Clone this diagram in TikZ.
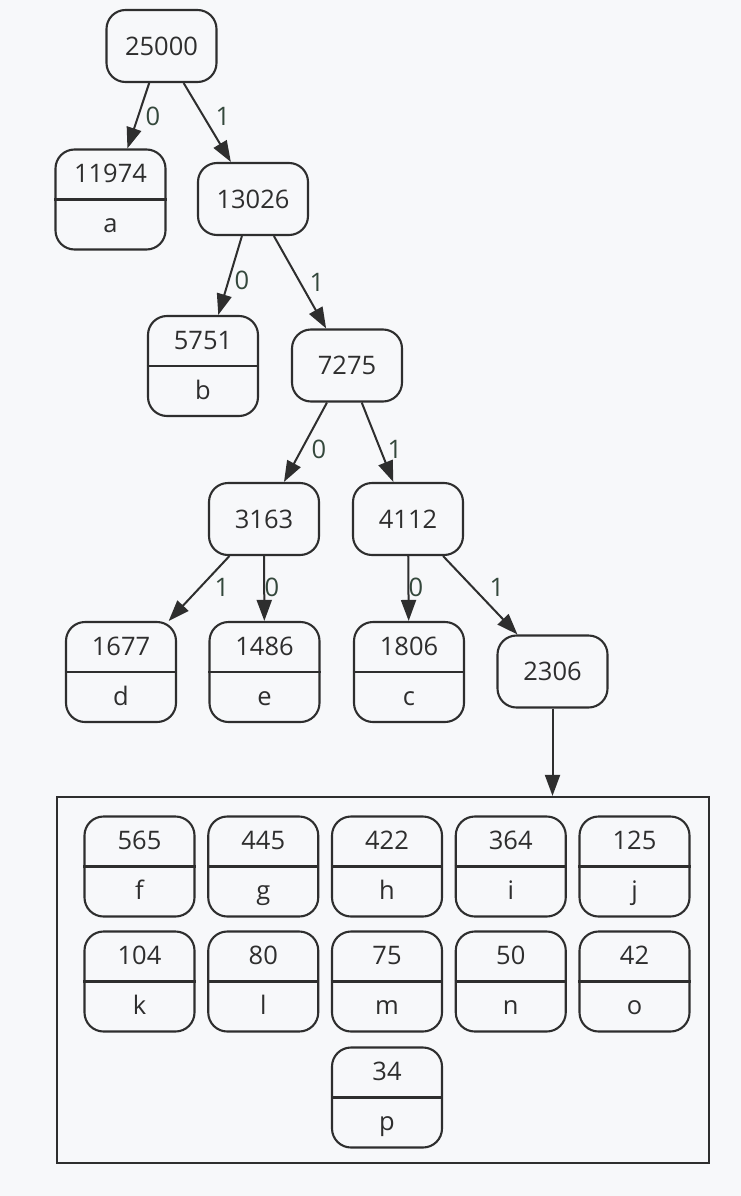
\documentclass[tikz,border=0pt]{standalone}
\usepackage{fontspec}
\setmainfont{Open Sans}
\usetikzlibrary{arrows.meta}
\definecolor{bg}{HTML}{F7F8FA}
\definecolor{ink}{HTML}{2E2E2E}
\definecolor{lblink}{HTML}{34483C}

% leaf: name, x, y, weight, symbol
\newcommand\leafnode[5]{%
  \node[leafbox] (#1) at (#2,#3) {};
  \draw[divider] (#1.west) -- (#1.east);
  \node[anchor=base, inner sep=0pt] (#1-w) at (#2,#3-17) {#4};
  \node[anchor=base, inner sep=0pt] (#1-s) at (#2,#3+33) {#5};
}

\begin{document}
\begin{tikzpicture}[x=1pt,y=-1pt,
  every node/.style={font=\fontsize{25.5}{30}\selectfont, text=ink},
  inner/.style={draw=ink, line width=2.1pt, rounded corners=19pt,
    minimum width=110pt, minimum height=72pt, inner sep=0pt},
  leafbox/.style={inner, minimum height=100pt},
  divider/.style={draw=ink, line width=2.1pt},
  edge/.style={draw=ink, line width=2pt, -{Triangle[length=21pt,width=15pt]}},
  lbl/.style={text=lblink, anchor=base, inner sep=0pt},
  grp/.style={draw=ink, line width=2.2pt, inner sep=0pt,
    minimum width=652pt, minimum height=366pt}
]
\fill[bg] (0,0) rectangle (741,1196);
\useasboundingbox (0,0) rectangle (741,1196);

% internal nodes
\node[inner] (n25000) at (161.5,46) {25000};
\node[inner] (n13026) at (253,199) {13026};
\node[inner] (n7275) at (347,365.5) {7275};
\node[inner] (n3163) at (264,519) {3163};
\node[inner] (n4112) at (408,519) {4112};
\node[inner] (n2306) at (552.5,671.5) {2306};

% upper leaves
\leafnode{a}{110.5}{199.5}{11974}{a}
\leafnode{b}{203}{366}{5751}{b}
\leafnode{d}{121}{672}{1677}{d}
\leafnode{e}{264.5}{672}{1486}{e}
\leafnode{c}{409}{672}{1806}{c}

% group of small leaves
\node[grp] (grp) at (383,980) {};
\leafnode{f}{139.5}{866.5}{565}{f}
\leafnode{g}{263.25}{866.5}{445}{g}
\leafnode{h}{387}{866.5}{422}{h}
\leafnode{i}{510.75}{866.5}{364}{i}
\leafnode{j}{634.5}{866.5}{125}{j}
\leafnode{k}{139.5}{981.5}{104}{k}
\leafnode{l}{263.25}{981.5}{80}{l}
\leafnode{m}{387}{981.5}{75}{m}
\leafnode{n}{510.75}{981.5}{50}{n}
\leafnode{o}{634.5}{981.5}{42}{o}
\leafnode{p}{387}{1097.5}{34}{p}

% edges
\draw[edge] (n25000) -- (a);
\draw[edge] (n25000) -- (n13026);
\draw[edge] (n13026) -- (b);
\draw[edge] (n13026) -- (n7275);
\draw[edge] (n7275) -- (n3163);
\draw[edge] (n7275) -- (n4112);
\draw[edge] (n3163) -- (d);
\draw[edge] (n3163) -- (e);
\draw[edge] (n4112) -- (c);
\draw[edge] (n4112) -- (n2306);
\draw[edge] (n2306) -- (n2306 |- grp.north);

% edge labels
\node[lbl] (l1) at (153,125) {0};
\node[lbl] (l2) at (223,125) {1};
\node[lbl] (l3) at (242,289) {0};
\node[lbl] (l4) at (317,291) {1};
\node[lbl] (l5) at (319,458) {0};
\node[lbl] (l6) at (395,458) {1};
\node[lbl] (l7) at (222,596) {1};
\node[lbl] (l8) at (272,596) {0};
\node[lbl] (l9) at (416,596) {0};
\node[lbl] (l10) at (497,596) {1};
\end{tikzpicture}
\end{document}
